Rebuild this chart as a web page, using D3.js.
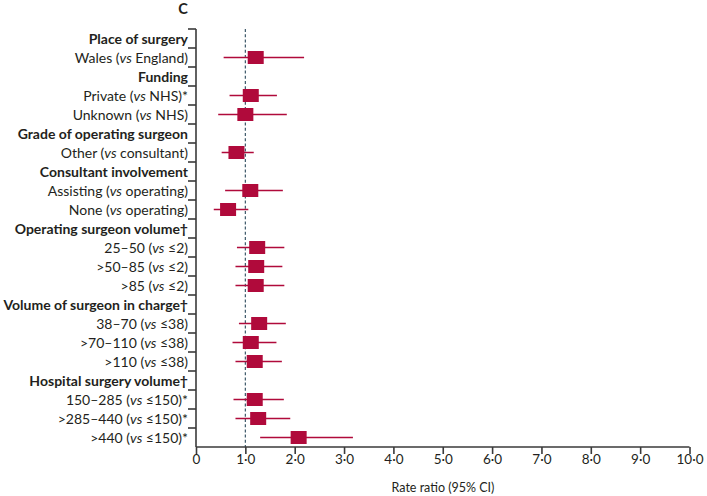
<!DOCTYPE html>
<html><head><meta charset="utf-8">
<script src="https://cdn.jsdelivr.net/npm/d3@7"></script>
<style>body{margin:0;background:#fff;}svg{display:block;}text{font-family:Lato,"Open Sans",sans-serif;fill:#231f20;}</style>
</head><body>
<svg id="c" width="707" height="496"></svg>
<script>
const labels = [
  "Place of surgery","Wales (vs England)","Funding","Private (vs NHS)*","Unknown (vs NHS)",
  "Grade of operating surgeon","Other (vs consultant)","Consultant involvement",
  "Assisting (vs operating)","None (vs operating)","Operating surgeon volume†",
  "25–50 (vs ≤2)",">50–85 (vs ≤2)",">85 (vs ≤2)","Volume of surgeon in charge†",
  "38–70 (vs ≤38)",">70–110 (vs ≤38)",">110 (vs ≤38)","Hospital surgery volume†",
  "150–285 (vs ≤150)*",">285–440 (vs ≤150)*",">440 (vs ≤150)*"
];
const isHeader = [1,0,1,0,0,1,0,1,0,0,1,0,0,0,1,0,0,0,1,0,0,0];
const estimate = [null,1.21,null,1.11,1.00,null,0.82,null,1.10,0.65,null,1.24,1.22,1.21,null,1.28,1.11,1.19,null,1.19,1.26,2.08];
const lower    = [null,0.56,null,0.68,0.45,null,0.52,null,0.59,0.36,null,0.83,0.80,0.80,null,0.87,0.74,0.80,null,0.76,0.80,1.30];
const upper    = [null,2.19,null,1.64,1.84,null,1.17,null,1.76,1.06,null,1.79,1.75,1.79,null,1.82,1.63,1.74,null,1.78,1.91,3.18];
const xTicks = [0,1,2,3,4,5,6,7,8,9,10];
const xTitle = "Rate ratio (95% CI)";
const panel = "C";

const svg = d3.select("#c");
const red = "#b00a3b", axisCol = "#3a3a3a", refCol = "#3c5868";
const x = d3.scaleLinear().domain([0,10]).range([196,689.5]);
const y = d3.scaleBand().domain(d3.range(labels.length)).range([29,447]);
const yc = i => y(i) + y.bandwidth()/2;

svg.append("text").attr("x",183).attr("y",14).attr("text-anchor","middle")
  .attr("font-size",14.5).attr("font-weight","bold").text(panel);

svg.append("line").attr("x1",x(1)).attr("x2",x(1)).attr("y1",29).attr("y2",447)
  .attr("stroke",refCol).attr("stroke-width",1.2).attr("stroke-dasharray","3,2.2");

const yAxisG = svg.append("g");
yAxisG.append("line").attr("x1",196).attr("x2",196).attr("y1",29).attr("y2",447)
  .attr("stroke",axisCol).attr("stroke-width",1.6);
yAxisG.selectAll("line.t").data(d3.range(labels.length)).join("line").attr("class","t")
  .attr("x1",188).attr("x2",196).attr("y1",i=>y(i)).attr("y2",i=>y(i))
  .attr("stroke",axisCol).attr("stroke-width",1.6);

const lab = svg.append("g").selectAll("text").data(labels).join("text")
  .attr("x",188).attr("y",(d,i)=>yc(i)).attr("dy","0.36em").attr("text-anchor","end")
  .attr("font-size",14).attr("font-weight",(d,i)=>isHeader[i]?"bold":"normal");
lab.each(function(d){
  const t = d3.select(this);
  d.split(/(vs)/).forEach(p=>{
    const s = t.append("tspan").text(p);
    if(p==="vs") s.attr("font-style","italic");
  });
});

const xAxis = d3.axisBottom(x).tickValues(xTicks).tickSize(7)
  .tickFormat(d => d===0 ? "0" : d.toFixed(1).replace(".","·"));
const xg = svg.append("g").attr("transform","translate(0,447)").call(xAxis);
xg.select(".domain").attr("stroke",axisCol).attr("stroke-width",1.6).attr("d","M196,0H689.5");
xg.selectAll(".tick line").attr("stroke",axisCol).attr("stroke-width",1.6);
xg.selectAll(".tick text").attr("font-size",13.5).attr("font-family","Lato,'Open Sans',sans-serif")
  .attr("fill","#231f20").attr("dy","0.6em").attr("y",9);

svg.append("text").attr("x",443).attr("y",492).attr("text-anchor","middle")
  .attr("font-size",12.5).text(xTitle);

const data = d3.range(labels.length).filter(i=>!isHeader[i]);
const g = svg.append("g");
g.selectAll("line.ci").data(data).join("line").attr("class","ci")
  .attr("x1",i=>x(lower[i])).attr("x2",i=>x(upper[i]))
  .attr("y1",i=>yc(i)).attr("y2",i=>yc(i))
  .attr("stroke",red).attr("stroke-width",1.5);
g.selectAll("rect").data(data).join("rect")
  .attr("x",i=>x(estimate[i])-8).attr("y",i=>yc(i)-6.5)
  .attr("width",16).attr("height",13).attr("fill",red);
</script>
</body></html>
